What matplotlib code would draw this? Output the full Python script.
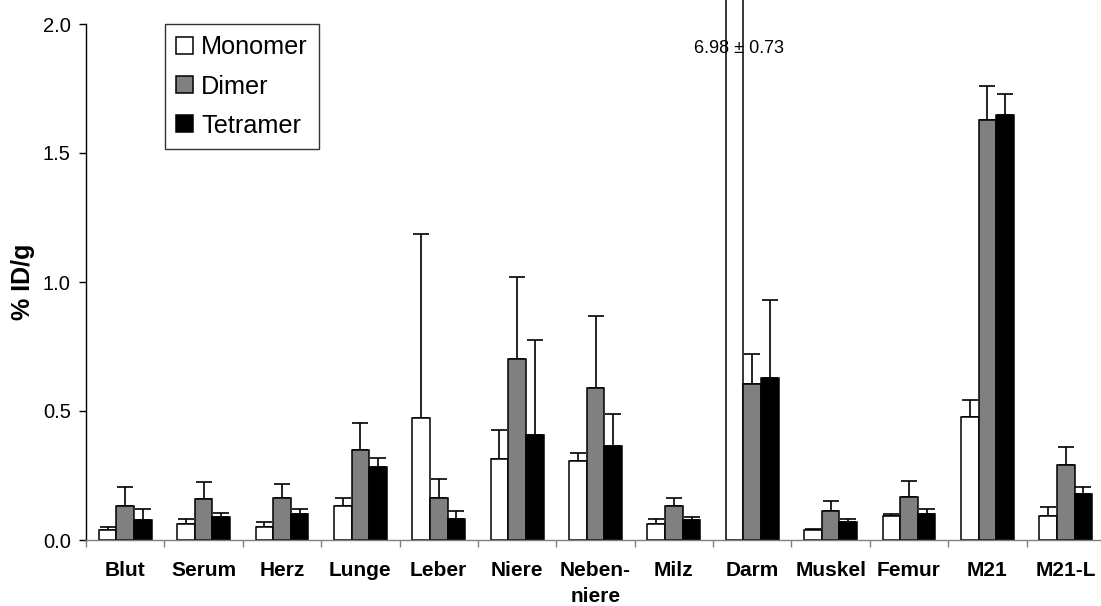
import numpy as np
import matplotlib
matplotlib.use("Agg")
import matplotlib.pyplot as plt

plt.rcParams["font.family"] = ["Liberation Sans", "DejaVu Sans"]

# data
organs = ["Blut", "Serum", "Herz", "Lunge", "Leber", "Niere", "Neben-\nniere",
          "Milz", "Darm", "Muskel", "Femur", "M21", "M21-L"]

monomer = [0.039, 0.063, 0.052, 0.132, 0.473, 0.313, 0.305, 0.063, 6.98, 0.037, 0.092, 0.477, 0.092]
monomer_err = [0.013, 0.020, 0.018, 0.032, 0.714, 0.112, 0.032, 0.020, 0.73, 0.004, 0.007, 0.067, 0.037]

dimer = [0.132, 0.158, 0.164, 0.350, 0.164, 0.703, 0.590, 0.130, 0.603, 0.111, 0.165, 1.628, 0.291]
dimer_err = [0.075, 0.068, 0.054, 0.105, 0.072, 0.317, 0.280, 0.033, 0.119, 0.042, 0.062, 0.132, 0.069]

tetramer = [0.076, 0.090, 0.102, 0.282, 0.083, 0.406, 0.363, 0.076, 0.628, 0.068, 0.099, 1.647, 0.180]
tetramer_err = [0.044, 0.016, 0.018, 0.037, 0.031, 0.370, 0.127, 0.013, 0.302, 0.012, 0.023, 0.082, 0.024]

series = [("Monomer", monomer, monomer_err, "white"),
          ("Dimer", dimer, dimer_err, "#808080"),
          ("Tetramer", tetramer, tetramer_err, "black")]

yticks = [0.0, 0.5, 1.0, 1.5, 2.0]

fig = plt.figure(figsize=(11.01, 6.06), dpi=100)
ax = fig.add_axes([86 / 1101, 66 / 606, 1019 / 1101, 516 / 606])

x = np.arange(len(organs))
w = 0.225
offsets = [-w, 0, w]

for (name, vals, errs, col), off in zip(series, offsets):
    bars = ax.bar(x + off, vals, width=w, color=col, edgecolor="black",
                  linewidth=1.1, label=name, zorder=2)
    for b in bars:
        b.set_clip_on(False)
    ax.errorbar(x + off, vals, yerr=[np.zeros(len(errs)), errs], fmt="none",
                ecolor="black", elinewidth=1.2, capsize=5.5, capthick=1.2, zorder=1)

# annotation for the off-scale Darm monomer value
i_darm = organs.index("Darm")
ax.text(i_darm - w + 0.06, 1.905, f"{monomer[i_darm]:.2f} \u00b1 {monomer_err[i_darm]:.2f}",
        ha="center", va="center", fontsize=13, zorder=3)

ax.set_xlim(-0.5, len(organs) - 0.5)
ax.set_ylim(0, 2.0)
ax.set_yticks(yticks)
ax.set_yticklabels([f"{t:.1f}" for t in yticks], fontsize=14.5)
ax.tick_params(axis="y", direction="out", length=5, width=1, pad=6)

ax.set_xticks(x)
ax.set_xticklabels(organs, fontsize=15, fontweight="bold", linespacing=1.45)
ax.set_xticks(np.arange(-0.5, len(organs), 1.0), minor=True)
ax.tick_params(axis="x", which="major", length=0, pad=15)
ax.tick_params(axis="x", which="minor", direction="out", length=5, width=1, color="#808080")

ax.spines["top"].set_visible(False)
ax.spines["right"].set_visible(False)
ax.spines["bottom"].set_color("#808080")
ax.spines["bottom"].set_linewidth(1.0)
ax.spines["left"].set_linewidth(1.0)

fig.text(23 / 1101, 1 - 282 / 606, "% ID/g", rotation=90, ha="center", va="center",
         fontsize=18, fontweight="bold")

leg = ax.legend(loc="upper left", bbox_to_anchor=(0.0775, 1.0), borderaxespad=0,
                fontsize=18.2, frameon=True, fancybox=False, edgecolor="black",
                handlelength=0.67, handleheight=0.67, handletextpad=0.32,
                labelspacing=0.6, borderpad=0.45)
leg.get_frame().set_linewidth(1.0)

fig.savefig("out.png", dpi=100)
